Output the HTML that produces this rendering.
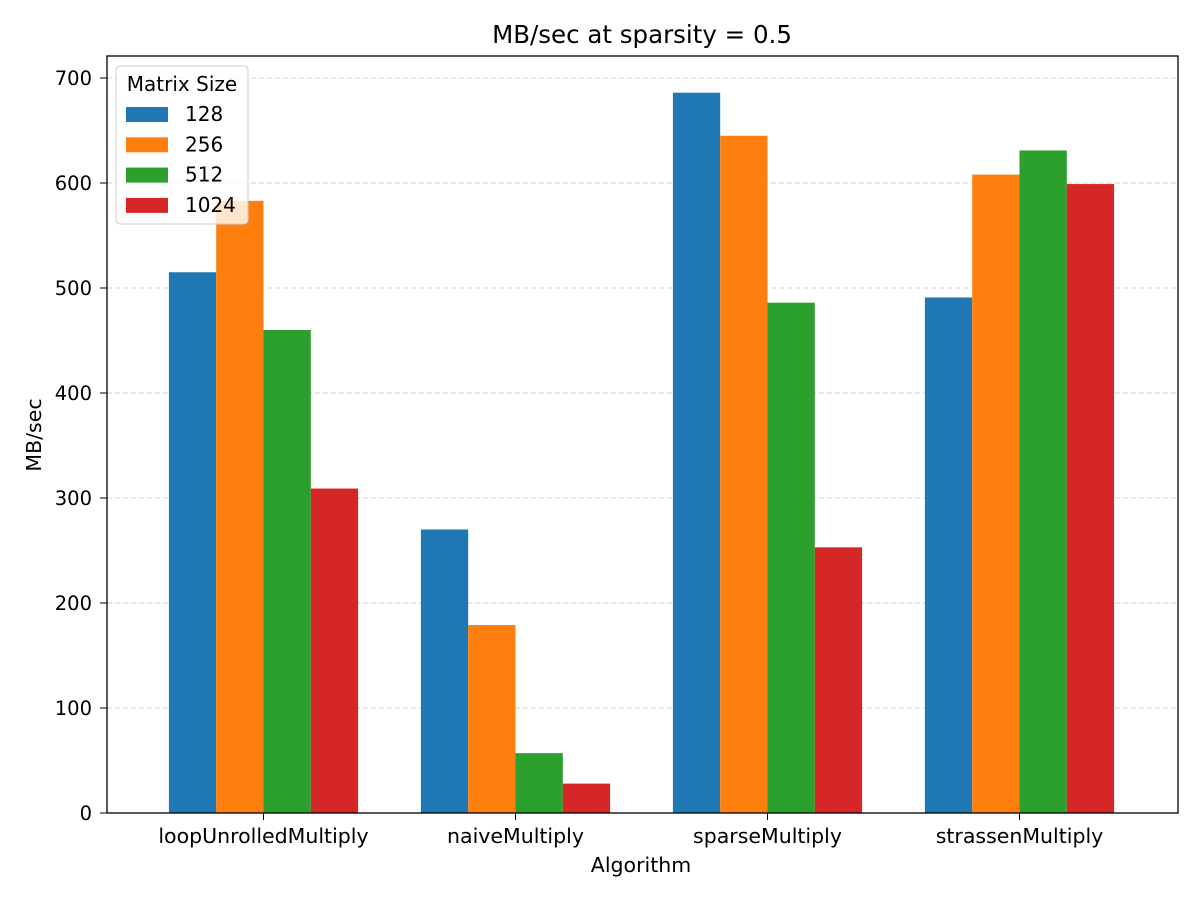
<!DOCTYPE html>
<html><head><meta charset="utf-8"><style>
body{margin:0;background:#fff}
svg text{font-family:"DejaVu Sans","Liberation Sans",sans-serif;fill:#000}
</style></head><body>
<svg id="chart" width="1200" height="900" xmlns="http://www.w3.org/2000/svg">
<rect width="1200" height="900" fill="#fff"/>
<text x="642" y="43" font-size="24.5" text-anchor="middle">MB/sec at sparsity = 0.5</text>
<g id="grid"></g>
<g id="bars"></g>
<rect x="107" y="56" width="1071" height="757" fill="none" stroke="#000" stroke-width="1.3"/>
<g id="yticks"></g>
<g id="xticks"></g>
<text x="641" y="872" font-size="20.5" text-anchor="middle">Algorithm</text>
<text transform="translate(41,435) rotate(-90)" font-size="20.5" text-anchor="middle">MB/sec</text>
<g id="legend">
<rect x="116" y="66" width="132" height="158" rx="4" fill="#fff" fill-opacity="0.8" stroke="#ccc"/>
<text x="182" y="91" font-size="20" text-anchor="middle">Matrix Size</text>
</g>
</svg>
<script>
const categories=["loopUnrolledMultiply","naiveMultiply","sparseMultiply","strassenMultiply"];
const seriesNames=["128","256","512","1024"];
const s128=[515,270,686,491];
const s256=[583,179,645,608];
const s512=[460,57,486,631];
const s1024=[309,28,253,599];
const yTicks=[0,100,200,300,400,500,600,700];
const series=[s128,s256,s512,s1024];
const colors=["#1f77b4","#ff7f0e","#2ca02c","#d62728"];
const NS="http://www.w3.org/2000/svg";
const y=v=>813-v*1.05;
const xc=i=>263.5+252*i;
const bw=47.3;
function mk(t,a,p){const e=document.createElementNS(NS,t);for(const k in a)e.setAttribute(k,a[k]);p.appendChild(e);return e;}
const grid=document.getElementById('grid'),yt=document.getElementById('yticks'),xt=document.getElementById('xticks'),bars=document.getElementById('bars'),lg=document.getElementById('legend');
yTicks.forEach(t=>{
 const l=mk('line',{x1:107,x2:1178,y1:y(t),y2:y(t),stroke:'#b0b0b0','stroke-opacity':0.6,'stroke-dasharray':'5,3'},grid);
 
 
 const tk=mk('line',{x1:100,x2:107,y1:y(t),y2:y(t),stroke:'#000'},yt);
 
 
 const tx=mk('text',{x:92,y:y(t)+7,'font-size':19.5,'text-anchor':'end'},yt);tx.textContent=t;
 
 
});
categories.forEach((c,i)=>{
 const tk=mk('line',{x1:xc(i),x2:xc(i),y1:813,y2:820,stroke:'#000'},xt);
 
 
 const tx=mk('text',{x:xc(i),y:843,'font-size':20.5,'text-anchor':'middle'},xt);tx.textContent=c;
 
 
 series.forEach((s,j)=>{
  const r=mk('rect',{x:xc(i)-2*bw+j*bw,y:y(s[i]),width:bw,height:s[i]*1.05,fill:colors[j]},bars);
  
  
 });
});
seriesNames.forEach((n,j)=>{
 const yy=114+30.3*j;
 const p=mk('rect',{x:126,y:yy-7,width:42,height:15,fill:colors[j]},lg);
 
 
 const t=mk('text',{x:185,y:yy+7,'font-size':20},lg);t.textContent=n;
 
 
});
</script>
</body></html>
